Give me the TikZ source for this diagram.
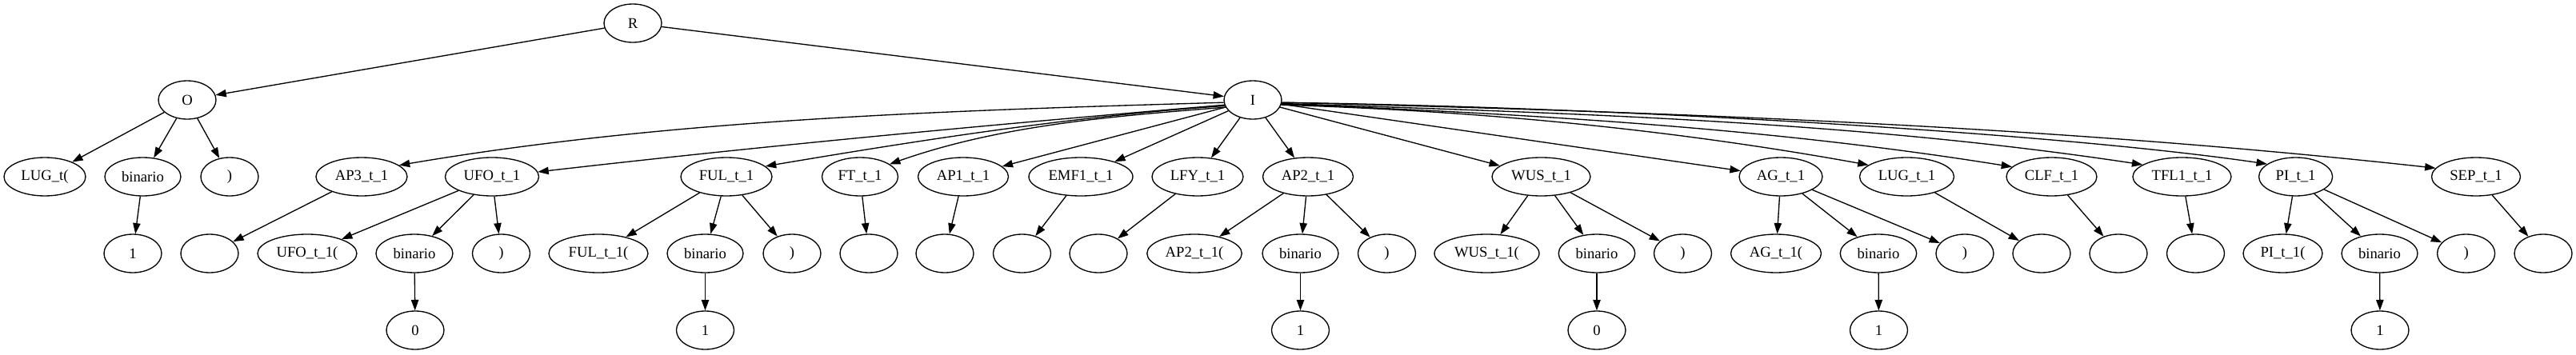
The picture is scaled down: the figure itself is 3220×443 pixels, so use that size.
\documentclass[tikz,border=0pt]{standalone}
\usepackage{fontspec}
\setmainfont{Liberation Serif}
\usetikzlibrary{shapes.geometric,arrows.meta}
\begin{document}
\begin{tikzpicture}[x=0.75pt,y=-0.75pt,
  gv/.style={draw, ellipse, line width=1pt, minimum width=54pt, minimum height=36pt, inner sep=0pt, font=\fontsize{14pt}{16pt}\selectfont},
  nw/.style={minimum width=#1*0.75pt},
  arr/.style={-{Triangle[length=10pt,width=7pt]}, line width=1pt}]
\useasboundingbox (0,0) rectangle (3220,443);
% rank 1
\node[gv] (R) at (791,29) {R};
% rank 2
\node[gv] (O) at (234,125) {O};
\node[gv] (I) at (1566,125) {I};
% rank 3
\node[gv,nw=102] (lugp) at (56,221) {LUG\_t(};
\node[gv,nw=95] (b1) at (178.5,221) {binario};
\node[gv] (rp1) at (287,221) {)};
\node[gv,nw=114] (ap3) at (452,221) {AP3\_t\_1};
\node[gv,nw=117] (ufo) at (615,221) {UFO\_t\_1};
\node[gv,nw=114] (ful) at (908,221) {FUL\_t\_1};
\node[gv,nw=95] (ft) at (1075,221) {FT\_t\_1};
\node[gv,nw=113] (ap1) at (1204,221) {AP1\_t\_1};
\node[gv,nw=130] (emf1) at (1351,221) {EMF1\_t\_1};
\node[gv,nw=114] (lfy) at (1497,221) {LFY\_t\_1};
\node[gv,nw=113] (ap2) at (1635,221) {AP2\_t\_1};
\node[gv,nw=123] (wus) at (1926.5,221) {WUS\_t\_1};
\node[gv,nw=104] (ag) at (2226,221) {AG\_t\_1};
\node[gv,nw=118] (lug) at (2383.5,221) {LUG\_t\_1};
\node[gv,nw=113] (clf) at (2564.5,221) {CLF\_t\_1};
\node[gv,nw=123] (tfl1) at (2727.5,221) {TFL1\_t\_1};
\node[gv,nw=92] (pi) at (2869.6,221) {PI\_t\_1};
\node[gv,nw=111] (sep) at (3095,221) {SEP\_t\_1};
% rank 4
\node[gv] (one1) at (166,317) {1};
\node[gv] (bl1) at (262,317) {};
\node[gv,nw=124] (ufop) at (384,317) {UFO\_t\_1(};
\node[gv,nw=96] (b2) at (518,317) {binario};
\node[gv] (rp2) at (626.5,317) {)};
\node[gv,nw=124] (fulp) at (748,317) {FUL\_t\_1(};
\node[gv,nw=95] (b3) at (881.5,317) {binario};
\node[gv] (rp3) at (990,317) {)};
\node[gv] (bl2) at (1086,317) {};
\node[gv] (bl3) at (1181,317) {};
\node[gv] (bl4) at (1277.5,317) {};
\node[gv] (bl5) at (1373,317) {};
\node[gv,nw=118.5] (ap2p) at (1493,317) {AP2\_t\_1(};
\node[gv,nw=95] (b4) at (1625.5,317) {binario};
\node[gv] (rp4) at (1733.5,317) {)};
\node[gv,nw=131] (wusp) at (1858.5,317) {WUS\_t\_1(};
\node[gv,nw=95.5] (b5) at (1996,317) {binario};
\node[gv] (rp5) at (2103.5,317) {)};
\node[gv,nw=113] (agp) at (2220,317) {AG\_t\_1(};
\node[gv,nw=95.5] (b6) at (2348,317) {binario};
\node[gv] (rp6) at (2456,317) {)};
\node[gv] (bl6) at (2552,317) {};
\node[gv] (bl7) at (2648,317) {};
\node[gv] (bl8) at (2744.5,317) {};
\node[gv,nw=99] (pip) at (2853.5,317) {PI\_t\_1(};
\node[gv,nw=95] (b7) at (2974.5,317) {binario};
\node[gv] (rp7) at (3082.6,317) {)};
\node[gv] (bl9) at (3179,317) {};
% rank 5
\node[gv] (z1) at (519,413) {0};
\node[gv] (one2) at (881.5,413) {1};
\node[gv] (one3) at (1625.5,413) {1};
\node[gv] (z2) at (1996,413) {0};
\node[gv] (one4) at (2348.5,413) {1};
\node[gv] (one5) at (2975,413) {1};
% edges
\draw[arr] (R) -- (O);
\draw[arr] (R) -- (I);
\draw[arr] (O) -- (lugp);
\draw[arr] (O) -- (b1);
\draw[arr] (O) -- (rp1);
\draw[arr] (b1) -- (one1);
% I children, left side curved
\draw[arr] (I.185) .. controls (1186,138.3) and (842,148.5) .. (ap3.17);
\draw[arr] (I.190) .. controls (1245,155.3) and (959,182) .. (ufo.6);
\draw[arr] (I.192) .. controls (1341,145.4) and (1149,175.5) .. (ful.15);
\draw[arr] (I.195) .. controls (1393,145.2) and (1252,156) .. (ft.23);
\draw[arr] (I) -- (ap1);
\draw[arr] (I) -- (emf1);
\draw[arr] (I) -- (lfy);
\draw[arr] (I) -- (ap2);
\draw[arr] (I) -- (wus);
\draw[arr] (I) -- (ag);
\draw[arr] (I.350) .. controls (1844,138.3) and (2087,161.3) .. (lug.163);
\draw[arr] (I.352) .. controls (1905,142.2) and (2209,159.4) .. (clf.166);
\draw[arr] (I.353.5) .. controls (1959,141.5) and (2317,151.3) .. (tfl1.163);
\draw[arr] (I.355) .. controls (2012,134) and (2560,165) .. (pi.156);
\draw[arr] (I.355) .. controls (2082,140) and (2562,157.1) .. (sep.168);
% rank 3 -> 4
\draw[arr] (ap3) -- (bl1);
\draw[arr] (ufo) -- (ufop);
\draw[arr] (ufo) -- (b2);
\draw[arr] (ufo) -- (rp2);
\draw[arr] (ful) -- (fulp);
\draw[arr] (ful) -- (b3);
\draw[arr] (ful) -- (rp3);
\draw[arr] (ft) -- (bl2);
\draw[arr] (ap1) -- (bl3);
\draw[arr] (emf1) -- (bl4);
\draw[arr] (lfy) -- (bl5);
\draw[arr] (ap2) -- (ap2p);
\draw[arr] (ap2) -- (b4);
\draw[arr] (ap2) -- (rp4);
\draw[arr] (wus) -- (wusp);
\draw[arr] (wus) -- (b5);
\draw[arr] (wus) -- (rp5);
\draw[arr] (ag) -- (agp);
\draw[arr] (ag) -- (b6);
\draw[arr] (ag) -- (rp6);
\draw[arr] (lug) -- (bl6);
\draw[arr] (clf) -- (bl7);
\draw[arr] (tfl1) -- (bl8);
\draw[arr] (pi) -- (pip);
\draw[arr] (pi) -- (b7);
\draw[arr] (pi) -- (rp7);
\draw[arr] (sep) -- (bl9);
% rank 4 -> 5
\draw[arr] (b2) -- (z1);
\draw[arr] (b3) -- (one2);
\draw[arr] (b4) -- (one3);
\draw[arr] (b5) -- (z2);
\draw[arr] (b6) -- (one4);
\draw[arr] (b7) -- (one5);
\end{tikzpicture}
\end{document}
